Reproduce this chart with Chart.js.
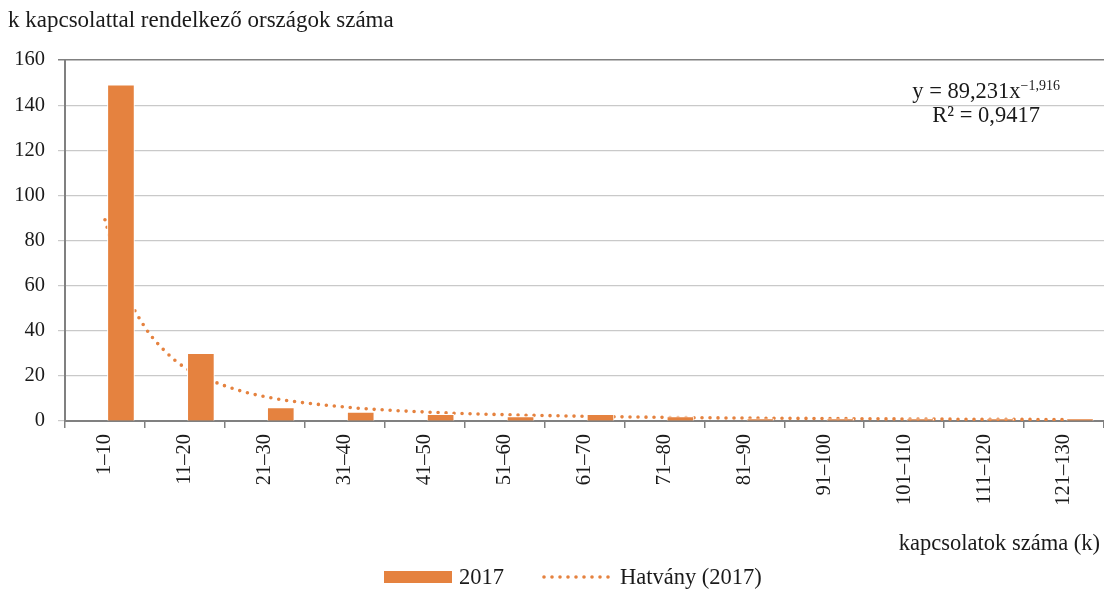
<!DOCTYPE html>
<html>
<head>
<meta charset="utf-8">
<script src="https://cdn.jsdelivr.net/npm/chart.js@4.4.1/dist/chart.umd.min.js"></script>
<style>
  html, body { margin: 0; padding: 0; background: #fff; }
  #wrap { position: relative; width: 1104px; height: 591px; font-family: "Liberation Serif", "Times New Roman", serif; color: #1a1a1a; }
  #chart { position: absolute; left: 0; top: 0; }
  .txt { position: absolute; font-size: 22.5px; white-space: nowrap; line-height: 1; }
  #ytitle { left: 8px; top: 8px; font-size: 23px; }
  #xtitle { right: 4px; top: 532px; }
  #eq { right: 44px; top: 79px; text-align: center; line-height: 24px; }
  #eq sup { font-size: 14px; vertical-align: 8px; line-height: 0; }
  #legend { left: 384px; top: 566px; display: flex; align-items: center; }
  .swatch-bar { width: 68px; height: 12px; background: #E5823F; margin-right: 7px; }
  .swatch-line { width: 74px; height: 4px; margin: 0 4px 0 38px; }
</style>
</head>
<body>
<div id="wrap">
  <canvas id="chart" width="1104" height="591"></canvas>
  <div class="txt" id="ytitle">k kapcsolattal rendelkező országok száma</div>
  <div class="txt" id="eq">y = 89,231x<sup>−1,916</sup><br>R² = 0,9417</div>
  <div class="txt" id="xtitle">kapcsolatok száma (k)</div>
  <div class="txt" id="legend">
    <span class="swatch-bar"></span><span>2017</span>
    <canvas class="swatch-line" id="dots" width="74" height="4"></canvas><span>Hatvány (2017)</span>
  </div>
</div>
<script>
const categories = ['1–10','11–20','21–30','31–40','41–50','51–60','61–70','71–80','81–90','91–100','101–110','111–120','121–130'];
const counts2017 = [149, 30, 6, 4, 3, 2, 3, 2, 1, 1, 1, 1, 1];
// power trendline (x = category number)
const trendX = [1, 1.25, 1.5, 1.75, 2, 2.5, 3, 4, 5, 6, 7, 8, 9, 10, 11, 12, 13];
const trendY = [89.2, 58.6, 41.6, 31.0, 23.7, 15.6, 10.8, 6.2, 4.0, 2.8, 2.1, 1.6, 1.3, 1.1, 0.9, 0.77, 0.66];
const yTicks = [0, 20, 40, 60, 80, 100, 120, 140, 160];

const ORANGE = '#E5823F';
const GRID = '#c9c9c9';
const AXIS = '#808080';
const FONT = { family: '"Liberation Serif", "Times New Roman", serif', size: 20.5 };

// legend dotted swatch
(function () {
  const c = document.getElementById('dots').getContext('2d');
  c.fillStyle = ORANGE;
  for (let x = 2; x < 74; x += 8) { c.beginPath(); c.arc(x, 2, 1.8, 0, Math.PI * 2); c.fill(); }
})();

// the source draws the bars in the right half of each category (empty first series slot),
// so the bar layer is shifted by a fifth of a category width
const shiftBars = {
  id: 'shiftBars',
  beforeDatasetDraw(chart, args) {
    if (args.meta.type !== 'bar') return;
    const x = chart.scales.x;
    chart.ctx.save();
    chart.ctx.translate(x.width / categories.length * 0.2, 0);
  },
  afterDatasetDraw(chart, args) {
    if (args.meta.type === 'bar') chart.ctx.restore();
  }
};

new Chart(document.getElementById('chart'), {
  type: 'bar',
  data: {
    labels: categories,
    datasets: [
      {
        type: 'bar', label: '2017', data: counts2017, backgroundColor: ORANGE,
        borderColor: '#fff', borderWidth: { left: 1, right: 1, top: 1, bottom: 0 }, borderSkipped: false,
        barThickness: 27, grouped: false, order: 0
      },
      {
        type: 'line', label: 'Hatvány (2017)', xAxisID: 'xt',
        data: trendX.map((x, i) => ({ x: x, y: trendY[i] })),
        borderColor: ORANGE, borderWidth: 3.6, borderDash: [0, 8], borderCapStyle: 'round',
        pointRadius: 0, cubicInterpolationMode: 'monotone', order: 1
      }
    ]
  },
  options: {
    responsive: false,
    animation: false,
    events: [],
    layout: { padding: { top: 60, left: 0, right: 0, bottom: 0 } },
    plugins: { legend: { display: false }, tooltip: { enabled: false } },
    scales: {
      x: {
        type: 'category',
        offset: true,
        grid: { offset: true, drawOnChartArea: false, drawTicks: true, tickLength: 7, color: AXIS, lineWidth: 1.5 },
        border: { color: AXIS, width: 2 },
        ticks: { color: '#1a1a1a', font: FONT, minRotation: 90, maxRotation: 90, padding: 6, autoSkip: false },
        afterFit: s => { s.height = 170; }
      },
      xt: { type: 'linear', display: false, offset: false, min: 0.5, max: 13.5 },
      y: {
        type: 'linear',
        min: 0, max: 160,
        afterBuildTicks: s => { s.ticks = yTicks.map(v => ({ value: v })); },
        grid: {
          tickLength: 7,
          color: ctx => (ctx.tick && ctx.tick.value === 160 ? AXIS : GRID),
          lineWidth: ctx => (ctx.tick && ctx.tick.value === 160 ? 1.5 : 1.2)
        },
        border: { color: AXIS, width: 2 },
        ticks: { color: '#1a1a1a', font: FONT, padding: 13 },
        afterFit: s => { s.width = 65; }
      }
    }
  },
  plugins: [shiftBars]
});
</script>
</body>
</html>
